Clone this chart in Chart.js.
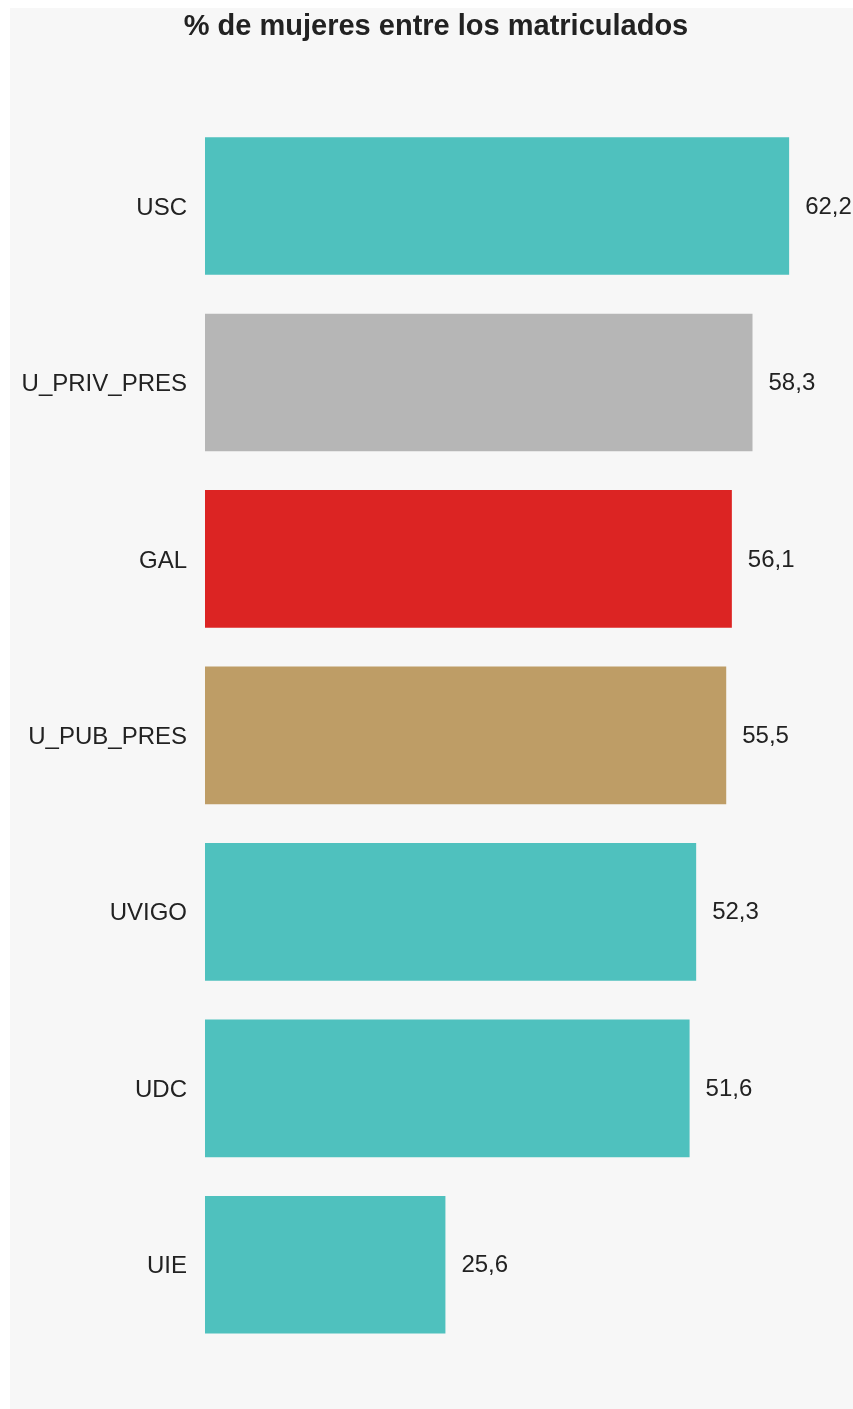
<!DOCTYPE html>
<html>
<head>
<meta charset="utf-8">
<script src="https://cdn.jsdelivr.net/npm/chart.js@4"></script>
<style>
  html, body { margin: 0; padding: 0; background: #ffffff; }
  #wrap { width: 853px; height: 1409px; position: relative; }
</style>
</head>
<body>
<div id="wrap"><canvas id="c"></canvas></div>
<script>
const titleText = "% de mujeres entre los matriculados";
const categories = ["USC", "U_PRIV_PRES", "GAL", "U_PUB_PRES", "UVIGO", "UDC", "UIE"];
const values = [62.2, 58.3, 56.1, 55.5, 52.3, 51.6, 25.6];
const barColors = ["#4fc1be", "#b6b6b6", "#dc2423", "#be9d66", "#4fc1be", "#4fc1be", "#4fc1be"];

const bgPlugin = {
  id: 'bg',
  beforeDraw(chart) {
    const ctx = chart.ctx;
    ctx.save();
    ctx.fillStyle = '#ffffff';
    ctx.fillRect(0, 0, chart.width, chart.height);
    ctx.fillStyle = '#f7f7f7';
    ctx.fillRect(10, 8, chart.width - 10, chart.height - 8);
    ctx.restore();
  }
};

const valueLabels = {
  id: 'valueLabels',
  afterDatasetsDraw(chart) {
    const ctx = chart.ctx;
    const meta = chart.getDatasetMeta(0);
    ctx.save();
    ctx.font = '24px "Liberation Sans", Arial, sans-serif';
    ctx.fillStyle = '#222222';
    ctx.textAlign = 'left';
    ctx.textBaseline = 'middle';
    meta.data.forEach((bar, i) => {
      const v = chart.data.datasets[0].data[i];
      ctx.fillText(v.toFixed(1).replace('.', ','), bar.x + 16, bar.y + 1);
    });
    ctx.restore();
  }
};

new Chart(document.getElementById('c'), {
  type: 'bar',
  data: {
    labels: categories,
    datasets: [{
      data: values,
      backgroundColor: barColors,
      borderWidth: 0,
      categoryPercentage: 1,
      barPercentage: 0.78
    }]
  },
  options: {
    indexAxis: 'y',
    responsive: true,
    maintainAspectRatio: false,
    animation: false,
    layout: { padding: { top: 8, left: 19, right: 0, bottom: 56 } },
    plugins: {
      legend: { display: false },
      tooltip: { enabled: false },
      title: {
        display: true,
        text: titleText,
        color: '#222222',
        font: { family: '"Liberation Sans", Arial, sans-serif', size: 29, weight: 'bold', lineHeight: 1.2 },
        padding: { top: 2, bottom: 73 }
      }
    },
    scales: {
      x: {
        display: false,
        min: 0,
        max: 69
      },
      y: {
        grid: { display: false, drawTicks: false },
        border: { display: false },
        ticks: {
          color: '#222222',
          padding: 18,
          labelOffset: 2,
          font: { family: '"Liberation Sans", Arial, sans-serif', size: 24 }
        },
        afterFit(scale) { scale.width = 186; }
      }
    }
  },
  plugins: [bgPlugin, valueLabels]
});
</script>
</body>
</html>
